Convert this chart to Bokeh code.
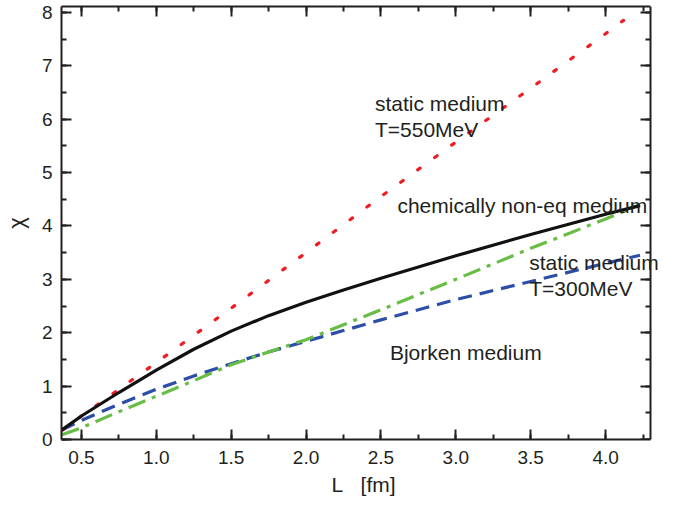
from bokeh.plotting import figure
from bokeh.models import (LinearAxis, Range1d, SingleIntervalTicker, Label,
                          CustomJSTickFormatter)
from bokeh.embed import file_html
from bokeh.resources import INLINE

# ---- data ----
L_red = [0.37, 0.5, 1.0, 1.5, 2.0, 2.5, 3.0, 3.5, 4.0, 4.12]
chi_static550 = [0.17, 0.44, 1.44, 2.46, 3.50, 4.55, 5.57, 6.58, 7.60, 7.85]

L_curve = [0.37, 0.5, 0.75, 1.0, 1.25, 1.5, 1.75, 2.0, 2.25, 2.5, 3.0, 3.5, 4.0, 4.23]
chi_noneq = [0.18, 0.44, 0.88, 1.30, 1.69, 2.03, 2.32, 2.57, 2.80, 3.02, 3.44, 3.84, 4.22, 4.38]
chi_static300 = [0.18, 0.36, 0.66, 0.94, 1.19, 1.42, 1.64, 1.84, 2.04, 2.24, 2.62, 2.96, 3.30, 3.45]
chi_bjorken = [0.09, 0.22, 0.52, 0.81, 1.10, 1.40, 1.64, 1.87, 2.15, 2.43, 3.00, 3.58, 4.13, 4.40]

x_ticks = [0.5, 1.0, 1.5, 2.0, 2.5, 3.0, 3.5, 4.0]
y_ticks = [0, 1, 2, 3, 4, 5, 6, 7, 8]

labels = ["static medium", "T=550MeV", "chemically non-eq medium",
          "static medium", "T=300MeV", "Bjorken medium"]
label_x = [2.46, 2.46, 2.61, 3.49, 3.49, 2.56]
label_y = [6.30, 5.81, 4.39, 3.31, 2.83, 1.63]

X_MIN, X_MAX = 0.367, 4.303
Y_MIN, Y_MAX = 0.0, 8.11

FONT = "Liberation Sans"
AX = "#231f20"

p = figure(width=673, height=498, output_backend="svg", toolbar_location=None,
           x_range=Range1d(X_MIN, 4.40), y_range=Range1d(Y_MIN, Y_MAX),
           min_border_left=55, min_border_right=8, min_border_top=6,
           min_border_bottom=59)
p.outline_line_color = None
p.xgrid.visible = False
p.ygrid.visible = False
p.background_fill_color = "white"
p.border_fill_color = "white"

def style(ax, show_labels=True):
    ax.axis_line_width = 2
    ax.axis_line_color = AX
    ax.major_tick_line_color = AX
    ax.minor_tick_line_color = AX
    ax.major_tick_line_width = 2
    ax.minor_tick_line_width = 2
    ax.major_tick_in = 10
    ax.major_tick_out = 0
    ax.minor_tick_in = 5
    ax.minor_tick_out = 0
    ax.major_label_text_font = FONT
    ax.major_label_text_color = AX
    ax.axis_label_text_font = FONT
    ax.axis_label_text_font_style = "normal"
    ax.axis_label_text_color = AX
    ax.major_label_text_font_size = "19px"
    if not show_labels:
        ax.formatter = CustomJSTickFormatter(code="return ''")
        ax.major_label_standoff = 0
        ax.axis_label = None

p.xaxis.ticker = SingleIntervalTicker(interval=0.5, num_minor_ticks=2)
p.yaxis.ticker = SingleIntervalTicker(interval=1, num_minor_ticks=2)
style(p.xaxis[0])
style(p.yaxis[0])
p.xaxis.bounds = (X_MIN, X_MAX)
p.xaxis.axis_label = "L\u00a0\u00a0\u00a0[fm]"
p.xaxis.axis_label_text_font_size = "21px"
p.xaxis.major_label_standoff = 11
p.xaxis.axis_label_standoff = 6
p.xaxis.major_label_overrides = {v: f"{v:.1f}" for v in x_ticks}
p.yaxis.axis_label = "\u03c7"
p.yaxis.axis_label_text_font_size = "22px"
p.yaxis.major_label_standoff = 9
p.yaxis.axis_label_standoff = 10
p.yaxis.major_label_overrides = {v: str(v) for v in y_ticks}

top = LinearAxis(ticker=SingleIntervalTicker(interval=0.5, num_minor_ticks=2),
                 bounds=(X_MIN, X_MAX))
style(top, False)
p.add_layout(top, "above")
right = LinearAxis(ticker=SingleIntervalTicker(interval=1, num_minor_ticks=2),
                   fixed_location=X_MAX)
style(right, False)
p.add_layout(right, "right")

p.line(L_red, chi_static550, line_color="#f01c24", line_width=3.2,
       line_dash="3 18", line_cap="round")
p.line(L_curve, chi_static300, line_color="#2c4ea6", line_width=3.2,
       line_dash="14 8")
p.line(L_curve, chi_bjorken, line_color="#68bd45", line_width=3.2,
       line_dash="18 7 4 7")
p.line(L_curve, chi_noneq, line_color="#111111", line_width=3.2)

for t, lx, ly in zip(labels, label_x, label_y):
    p.add_layout(Label(x=lx, y=ly, text=t, text_font=FONT,
                       text_font_size="21px", text_color=AX,
                       text_baseline="alphabetic", text_align="left"))

open("out.html", "w").write(file_html(p, INLINE))
